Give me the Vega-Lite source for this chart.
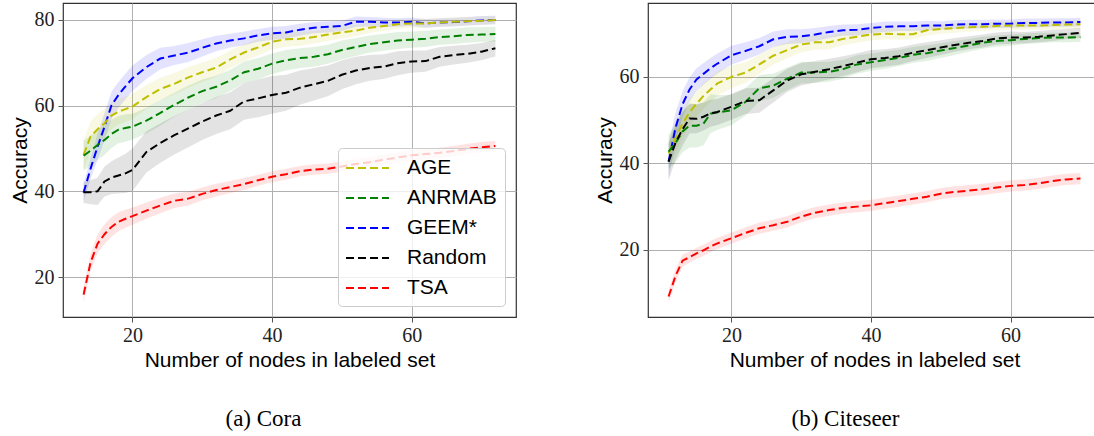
{
"$schema": "https://vega.github.io/schema/vega-lite/v6.json",
"padding": {"left": 8, "top": 2, "right": 0, "bottom": 0},
"background": "white",
"spacing": 132,
"bounds": "flush",
"resolve": {"scale": {"x": "independent", "y": "independent", "color": "independent", "fill": "independent"}, "legend": {"color": "independent", "fill": "independent"}},
"config": {
  "view": {"stroke": "#333333", "strokeWidth": 1.2},
  "axis": {"domain": false, "grid": true, "gridColor": "#b0b0b0", "gridWidth": 1, "tickColor": "#555555", "tickSize": 5, "labelFont": "Liberation Serif", "labelFontSize": 20, "labelColor": "#222222", "titleFont": "Liberation Sans", "titleFontSize": 21, "titleFontWeight": "normal", "titleColor": "black", "labelPadding": 3},
  "axisY": {"titlePadding": 4, "labelPadding": 4},
  "axisX": {"titlePadding": 4}
},
"datasets": {
"cora": [
{"m":"GEEM*","x":13,"y":39.7,"lo":37.7,"hi":41.7},{"m":"GEEM*","x":14,"y":45.3,"lo":42.8,"hi":47.8},{"m":"GEEM*","x":15,"y":50.4,"lo":47.4,"hi":53.4},{"m":"GEEM*","x":16,"y":55.1,"lo":51.9,"hi":58.3},{"m":"GEEM*","x":17,"y":60.1,"lo":56.9,"hi":63.3},{"m":"GEEM*","x":18,"y":62.5,"lo":59.5,"hi":65.5},{"m":"GEEM*","x":19,"y":64.5,"lo":61.5,"hi":67.5},{"m":"GEEM*","x":20,"y":66.4,"lo":63.4,"hi":69.4},{"m":"GEEM*","x":22,"y":69.0,"lo":66.2,"hi":71.8},{"m":"GEEM*","x":24,"y":71.0,"lo":68.5,"hi":73.5},{"m":"GEEM*","x":26,"y":71.7,"lo":69.5,"hi":73.9},{"m":"GEEM*","x":28,"y":72.4,"lo":70.2,"hi":74.6},{"m":"GEEM*","x":30,"y":73.5,"lo":71.5,"hi":75.5},{"m":"GEEM*","x":32,"y":74.5,"lo":72.7,"hi":76.3},{"m":"GEEM*","x":34,"y":75.2,"lo":73.6,"hi":76.8},{"m":"GEEM*","x":36,"y":75.7,"lo":74.1,"hi":77.3},{"m":"GEEM*","x":38,"y":76.4,"lo":74.9,"hi":77.9},{"m":"GEEM*","x":40,"y":76.9,"lo":75.4,"hi":78.4},{"m":"GEEM*","x":42,"y":77.1,"lo":75.6,"hi":78.6},{"m":"GEEM*","x":44,"y":77.7,"lo":76.3,"hi":79.1},{"m":"GEEM*","x":46,"y":78.2,"lo":76.9,"hi":79.5},{"m":"GEEM*","x":48,"y":78.4,"lo":77.1,"hi":79.7},{"m":"GEEM*","x":50,"y":78.6,"lo":77.4,"hi":79.8},{"m":"GEEM*","x":52,"y":79.6,"lo":78.4,"hi":80.8},{"m":"GEEM*","x":54,"y":79.6,"lo":78.5,"hi":80.7},{"m":"GEEM*","x":56,"y":79.4,"lo":78.3,"hi":80.5},{"m":"GEEM*","x":58,"y":79.4,"lo":78.4,"hi":80.4},{"m":"GEEM*","x":60,"y":79.6,"lo":78.6,"hi":80.6},{"m":"GEEM*","x":62,"y":79.2,"lo":78.2,"hi":80.2},{"m":"GEEM*","x":64,"y":79.4,"lo":78.4,"hi":80.4},{"m":"GEEM*","x":66,"y":79.5,"lo":78.5,"hi":80.5},{"m":"GEEM*","x":68,"y":79.7,"lo":78.7,"hi":80.7},{"m":"GEEM*","x":70,"y":79.9,"lo":78.9,"hi":80.9},{"m":"GEEM*","x":72,"y":80.0,"lo":79.0,"hi":81.0},
{"m":"AGE","x":13,"y":48.5,"lo":45.0,"hi":52.0},{"m":"AGE","x":14,"y":52.8,"lo":49.3,"hi":56.3},{"m":"AGE","x":15,"y":54.5,"lo":51.0,"hi":58.0},{"m":"AGE","x":16,"y":55.9,"lo":52.6,"hi":59.2},{"m":"AGE","x":17,"y":57.7,"lo":54.5,"hi":60.9},{"m":"AGE","x":18,"y":58.6,"lo":55.6,"hi":61.6},{"m":"AGE","x":19,"y":59.2,"lo":56.2,"hi":62.2},{"m":"AGE","x":20,"y":59.8,"lo":56.8,"hi":62.8},{"m":"AGE","x":22,"y":62.0,"lo":59.2,"hi":64.8},{"m":"AGE","x":24,"y":63.9,"lo":61.3,"hi":66.5},{"m":"AGE","x":26,"y":65.1,"lo":62.6,"hi":67.6},{"m":"AGE","x":28,"y":66.6,"lo":64.2,"hi":69.0},{"m":"AGE","x":30,"y":67.8,"lo":65.5,"hi":70.1},{"m":"AGE","x":32,"y":68.9,"lo":66.7,"hi":71.1},{"m":"AGE","x":34,"y":70.8,"lo":68.8,"hi":72.8},{"m":"AGE","x":36,"y":72.4,"lo":70.4,"hi":74.4},{"m":"AGE","x":38,"y":73.6,"lo":71.7,"hi":75.5},{"m":"AGE","x":40,"y":74.9,"lo":73.1,"hi":76.7},{"m":"AGE","x":42,"y":75.5,"lo":73.8,"hi":77.2},{"m":"AGE","x":44,"y":75.6,"lo":74.0,"hi":77.2},{"m":"AGE","x":46,"y":76.0,"lo":74.5,"hi":77.5},{"m":"AGE","x":48,"y":76.6,"lo":75.1,"hi":78.1},{"m":"AGE","x":50,"y":77.1,"lo":75.7,"hi":78.5},{"m":"AGE","x":52,"y":77.5,"lo":76.2,"hi":78.8},{"m":"AGE","x":54,"y":78.2,"lo":77.0,"hi":79.4},{"m":"AGE","x":56,"y":78.6,"lo":77.4,"hi":79.8},{"m":"AGE","x":58,"y":79.0,"lo":77.9,"hi":80.1},{"m":"AGE","x":60,"y":79.2,"lo":78.2,"hi":80.2},{"m":"AGE","x":62,"y":79.2,"lo":78.2,"hi":80.2},{"m":"AGE","x":64,"y":79.4,"lo":78.4,"hi":80.4},{"m":"AGE","x":66,"y":79.6,"lo":78.6,"hi":80.6},{"m":"AGE","x":68,"y":79.7,"lo":78.7,"hi":80.7},{"m":"AGE","x":70,"y":79.8,"lo":78.8,"hi":80.8},{"m":"AGE","x":72,"y":80.0,"lo":79.0,"hi":81.0},
{"m":"ANRMAB","x":13,"y":48.3,"lo":44.8,"hi":51.8},{"m":"ANRMAB","x":14,"y":49.5,"lo":46.0,"hi":53.0},{"m":"ANRMAB","x":15,"y":50.8,"lo":47.3,"hi":54.3},{"m":"ANRMAB","x":16,"y":52.0,"lo":48.5,"hi":55.5},{"m":"ANRMAB","x":17,"y":53.4,"lo":50.1,"hi":56.7},{"m":"ANRMAB","x":18,"y":54.4,"lo":51.2,"hi":57.6},{"m":"ANRMAB","x":19,"y":54.8,"lo":51.6,"hi":58.0},{"m":"ANRMAB","x":20,"y":55.1,"lo":52.1,"hi":58.1},{"m":"ANRMAB","x":22,"y":56.5,"lo":53.5,"hi":59.5},{"m":"ANRMAB","x":24,"y":58.3,"lo":55.3,"hi":61.3},{"m":"ANRMAB","x":26,"y":60.2,"lo":57.4,"hi":63.0},{"m":"ANRMAB","x":28,"y":61.9,"lo":59.1,"hi":64.7},{"m":"ANRMAB","x":30,"y":63.4,"lo":60.7,"hi":66.1},{"m":"ANRMAB","x":32,"y":64.4,"lo":61.8,"hi":67.0},{"m":"ANRMAB","x":34,"y":65.9,"lo":63.4,"hi":68.4},{"m":"ANRMAB","x":36,"y":67.8,"lo":65.3,"hi":70.3},{"m":"ANRMAB","x":38,"y":68.6,"lo":66.1,"hi":71.1},{"m":"ANRMAB","x":40,"y":69.8,"lo":67.4,"hi":72.2},{"m":"ANRMAB","x":42,"y":70.6,"lo":68.2,"hi":73.0},{"m":"ANRMAB","x":44,"y":71.1,"lo":68.8,"hi":73.4},{"m":"ANRMAB","x":46,"y":71.4,"lo":69.1,"hi":73.7},{"m":"ANRMAB","x":48,"y":72.0,"lo":69.8,"hi":74.2},{"m":"ANRMAB","x":50,"y":73.0,"lo":70.8,"hi":75.2},{"m":"ANRMAB","x":52,"y":73.7,"lo":71.6,"hi":75.8},{"m":"ANRMAB","x":54,"y":74.4,"lo":72.4,"hi":76.4},{"m":"ANRMAB","x":56,"y":74.8,"lo":72.8,"hi":76.8},{"m":"ANRMAB","x":58,"y":75.2,"lo":73.2,"hi":77.2},{"m":"ANRMAB","x":60,"y":75.4,"lo":73.5,"hi":77.3},{"m":"ANRMAB","x":62,"y":75.6,"lo":73.7,"hi":77.5},{"m":"ANRMAB","x":64,"y":76.0,"lo":74.2,"hi":77.8},{"m":"ANRMAB","x":66,"y":76.2,"lo":74.4,"hi":78.0},{"m":"ANRMAB","x":68,"y":76.5,"lo":74.7,"hi":78.3},{"m":"ANRMAB","x":70,"y":76.6,"lo":74.9,"hi":78.3},{"m":"ANRMAB","x":72,"y":76.7,"lo":75.0,"hi":78.4},
{"m":"Random","x":13,"y":39.8,"lo":37.3,"hi":42.3},{"m":"Random","x":14,"y":39.8,"lo":37.0,"hi":42.6},{"m":"Random","x":15,"y":40.0,"lo":36.8,"hi":43.2},{"m":"Random","x":16,"y":42.3,"lo":38.8,"hi":45.8},{"m":"Random","x":17,"y":43.2,"lo":39.4,"hi":47.0},{"m":"Random","x":18,"y":43.7,"lo":39.5,"hi":47.9},{"m":"Random","x":19,"y":44.2,"lo":39.6,"hi":48.8},{"m":"Random","x":20,"y":45.0,"lo":40.0,"hi":50.0},{"m":"Random","x":22,"y":49.2,"lo":44.4,"hi":54.0},{"m":"Random","x":24,"y":51.3,"lo":46.7,"hi":55.9},{"m":"Random","x":26,"y":53.1,"lo":48.6,"hi":57.6},{"m":"Random","x":28,"y":54.7,"lo":50.3,"hi":59.1},{"m":"Random","x":30,"y":56.3,"lo":52.0,"hi":60.6},{"m":"Random","x":32,"y":57.7,"lo":53.4,"hi":62.0},{"m":"Random","x":34,"y":58.8,"lo":54.5,"hi":63.1},{"m":"Random","x":36,"y":61.0,"lo":56.7,"hi":65.3},{"m":"Random","x":38,"y":61.7,"lo":57.3,"hi":66.1},{"m":"Random","x":40,"y":62.5,"lo":58.1,"hi":66.9},{"m":"Random","x":42,"y":63.0,"lo":58.8,"hi":67.2},{"m":"Random","x":44,"y":64.2,"lo":60.2,"hi":68.2},{"m":"Random","x":46,"y":65.0,"lo":61.2,"hi":68.8},{"m":"Random","x":48,"y":65.8,"lo":62.2,"hi":69.4},{"m":"Random","x":50,"y":67.2,"lo":63.8,"hi":70.6},{"m":"Random","x":52,"y":68.2,"lo":65.0,"hi":71.4},{"m":"Random","x":54,"y":68.8,"lo":65.8,"hi":71.8},{"m":"Random","x":56,"y":69.1,"lo":66.2,"hi":72.0},{"m":"Random","x":58,"y":69.9,"lo":67.1,"hi":72.7},{"m":"Random","x":60,"y":70.3,"lo":67.7,"hi":72.9},{"m":"Random","x":62,"y":70.4,"lo":67.9,"hi":72.9},{"m":"Random","x":64,"y":71.4,"lo":69.1,"hi":73.7},{"m":"Random","x":66,"y":71.8,"lo":69.6,"hi":74.0},{"m":"Random","x":68,"y":72.1,"lo":70.0,"hi":74.2},{"m":"Random","x":70,"y":72.6,"lo":70.6,"hi":74.6},{"m":"Random","x":72,"y":73.4,"lo":71.5,"hi":75.3},
{"m":"TSA","x":13,"y":15.9,"lo":14.1,"hi":17.7},{"m":"TSA","x":14,"y":23.4,"lo":21.4,"hi":25.4},{"m":"TSA","x":15,"y":27.8,"lo":25.6,"hi":30.0},{"m":"TSA","x":16,"y":30.0,"lo":27.7,"hi":32.3},{"m":"TSA","x":17,"y":31.7,"lo":29.4,"hi":34.0},{"m":"TSA","x":18,"y":32.9,"lo":30.7,"hi":35.1},{"m":"TSA","x":19,"y":33.6,"lo":31.5,"hi":35.7},{"m":"TSA","x":20,"y":34.2,"lo":32.2,"hi":36.2},{"m":"TSA","x":22,"y":35.5,"lo":33.6,"hi":37.4},{"m":"TSA","x":24,"y":36.7,"lo":34.9,"hi":38.5},{"m":"TSA","x":26,"y":37.8,"lo":36.1,"hi":39.5},{"m":"TSA","x":28,"y":38.3,"lo":36.7,"hi":39.9},{"m":"TSA","x":30,"y":39.4,"lo":37.9,"hi":40.9},{"m":"TSA","x":32,"y":40.3,"lo":38.8,"hi":41.8},{"m":"TSA","x":34,"y":41.0,"lo":39.6,"hi":42.4},{"m":"TSA","x":36,"y":41.7,"lo":40.3,"hi":43.1},{"m":"TSA","x":38,"y":42.6,"lo":41.3,"hi":43.9},{"m":"TSA","x":40,"y":43.4,"lo":42.1,"hi":44.7},{"m":"TSA","x":42,"y":44.0,"lo":42.7,"hi":45.3},{"m":"TSA","x":44,"y":44.7,"lo":43.5,"hi":45.9},{"m":"TSA","x":46,"y":45.1,"lo":43.9,"hi":46.3},{"m":"TSA","x":48,"y":45.3,"lo":44.1,"hi":46.5},{"m":"TSA","x":50,"y":45.8,"lo":44.6,"hi":47.0},{"m":"TSA","x":52,"y":46.4,"lo":45.2,"hi":47.6},{"m":"TSA","x":54,"y":46.8,"lo":45.6,"hi":48.0},{"m":"TSA","x":56,"y":47.4,"lo":46.2,"hi":48.6},{"m":"TSA","x":58,"y":47.9,"lo":46.7,"hi":49.1},{"m":"TSA","x":60,"y":48.4,"lo":47.2,"hi":49.6},{"m":"TSA","x":62,"y":48.7,"lo":47.5,"hi":49.9},{"m":"TSA","x":64,"y":49.0,"lo":47.8,"hi":50.2},{"m":"TSA","x":66,"y":49.4,"lo":48.2,"hi":50.6},{"m":"TSA","x":68,"y":49.9,"lo":48.7,"hi":51.1},{"m":"TSA","x":70,"y":50.3,"lo":49.1,"hi":51.5},{"m":"TSA","x":72,"y":50.6,"lo":49.4,"hi":51.8}
],
"citeseer": [
{"m":"GEEM*","x":11,"y":40.4,"lo":36.4,"hi":44.4},{"m":"GEEM*","x":12,"y":48.3,"lo":44.8,"hi":51.8},{"m":"GEEM*","x":13,"y":53.7,"lo":50.7,"hi":56.7},{"m":"GEEM*","x":14,"y":57.1,"lo":54.3,"hi":59.9},{"m":"GEEM*","x":15,"y":59.4,"lo":56.8,"hi":62.0},{"m":"GEEM*","x":16,"y":60.7,"lo":58.2,"hi":63.2},{"m":"GEEM*","x":17,"y":62.0,"lo":59.6,"hi":64.4},{"m":"GEEM*","x":18,"y":63.1,"lo":60.8,"hi":65.4},{"m":"GEEM*","x":20,"y":65.0,"lo":62.8,"hi":67.2},{"m":"GEEM*","x":22,"y":66.0,"lo":64.0,"hi":68.0},{"m":"GEEM*","x":24,"y":67.1,"lo":65.2,"hi":69.0},{"m":"GEEM*","x":26,"y":68.7,"lo":66.9,"hi":70.5},{"m":"GEEM*","x":28,"y":69.3,"lo":67.6,"hi":71.0},{"m":"GEEM*","x":30,"y":69.4,"lo":67.8,"hi":71.0},{"m":"GEEM*","x":32,"y":69.8,"lo":68.3,"hi":71.3},{"m":"GEEM*","x":34,"y":70.4,"lo":69.0,"hi":71.8},{"m":"GEEM*","x":36,"y":70.8,"lo":69.5,"hi":72.1},{"m":"GEEM*","x":38,"y":70.9,"lo":69.6,"hi":72.2},{"m":"GEEM*","x":40,"y":71.3,"lo":70.1,"hi":72.5},{"m":"GEEM*","x":42,"y":71.6,"lo":70.4,"hi":72.8},{"m":"GEEM*","x":44,"y":71.7,"lo":70.6,"hi":72.8},{"m":"GEEM*","x":46,"y":71.7,"lo":70.6,"hi":72.8},{"m":"GEEM*","x":48,"y":71.9,"lo":70.8,"hi":73.0},{"m":"GEEM*","x":50,"y":71.9,"lo":70.9,"hi":72.9},{"m":"GEEM*","x":52,"y":72.1,"lo":71.1,"hi":73.1},{"m":"GEEM*","x":54,"y":72.2,"lo":71.2,"hi":73.2},{"m":"GEEM*","x":56,"y":72.2,"lo":71.2,"hi":73.2},{"m":"GEEM*","x":58,"y":72.3,"lo":71.3,"hi":73.3},{"m":"GEEM*","x":60,"y":72.3,"lo":71.3,"hi":73.3},{"m":"GEEM*","x":62,"y":72.5,"lo":71.5,"hi":73.5},{"m":"GEEM*","x":64,"y":72.5,"lo":71.5,"hi":73.5},{"m":"GEEM*","x":66,"y":72.6,"lo":71.6,"hi":73.6},{"m":"GEEM*","x":68,"y":72.6,"lo":71.6,"hi":73.6},{"m":"GEEM*","x":70,"y":72.7,"lo":71.7,"hi":73.7},
{"m":"AGE","x":11,"y":42.3,"lo":38.8,"hi":45.8},{"m":"AGE","x":12,"y":45.9,"lo":42.4,"hi":49.4},{"m":"AGE","x":13,"y":49.2,"lo":45.9,"hi":52.5},{"m":"AGE","x":14,"y":51.8,"lo":48.6,"hi":55.0},{"m":"AGE","x":15,"y":53.8,"lo":50.8,"hi":56.8},{"m":"AGE","x":16,"y":55.6,"lo":52.6,"hi":58.6},{"m":"AGE","x":17,"y":57.1,"lo":54.2,"hi":60.0},{"m":"AGE","x":18,"y":58.5,"lo":55.7,"hi":61.3},{"m":"AGE","x":20,"y":60.0,"lo":57.4,"hi":62.6},{"m":"AGE","x":22,"y":61.0,"lo":58.6,"hi":63.4},{"m":"AGE","x":24,"y":62.9,"lo":60.7,"hi":65.1},{"m":"AGE","x":26,"y":64.9,"lo":62.9,"hi":66.9},{"m":"AGE","x":28,"y":66.2,"lo":64.3,"hi":68.1},{"m":"AGE","x":30,"y":67.5,"lo":65.7,"hi":69.3},{"m":"AGE","x":32,"y":68.0,"lo":66.3,"hi":69.7},{"m":"AGE","x":34,"y":68.0,"lo":66.4,"hi":69.6},{"m":"AGE","x":36,"y":68.8,"lo":67.3,"hi":70.3},{"m":"AGE","x":38,"y":69.3,"lo":67.9,"hi":70.7},{"m":"AGE","x":40,"y":69.8,"lo":68.4,"hi":71.2},{"m":"AGE","x":42,"y":70.0,"lo":68.7,"hi":71.3},{"m":"AGE","x":44,"y":69.9,"lo":68.6,"hi":71.2},{"m":"AGE","x":46,"y":69.9,"lo":68.7,"hi":71.1},{"m":"AGE","x":48,"y":70.8,"lo":69.6,"hi":72.0},{"m":"AGE","x":50,"y":71.1,"lo":70.0,"hi":72.2},{"m":"AGE","x":52,"y":71.3,"lo":70.2,"hi":72.4},{"m":"AGE","x":54,"y":71.5,"lo":70.5,"hi":72.5},{"m":"AGE","x":56,"y":71.6,"lo":70.6,"hi":72.6},{"m":"AGE","x":58,"y":71.8,"lo":70.8,"hi":72.8},{"m":"AGE","x":60,"y":71.9,"lo":70.9,"hi":72.9},{"m":"AGE","x":62,"y":71.9,"lo":70.9,"hi":72.9},{"m":"AGE","x":64,"y":71.9,"lo":70.9,"hi":72.9},{"m":"AGE","x":66,"y":72.0,"lo":71.0,"hi":73.0},{"m":"AGE","x":68,"y":72.1,"lo":71.1,"hi":73.1},{"m":"AGE","x":70,"y":72.2,"lo":71.2,"hi":73.2},
{"m":"ANRMAB","x":11,"y":42.7,"lo":38.7,"hi":46.7},{"m":"ANRMAB","x":12,"y":44.7,"lo":40.2,"hi":49.2},{"m":"ANRMAB","x":13,"y":47.4,"lo":42.6,"hi":52.2},{"m":"ANRMAB","x":14,"y":48.7,"lo":43.7,"hi":53.7},{"m":"ANRMAB","x":15,"y":48.7,"lo":43.7,"hi":53.7},{"m":"ANRMAB","x":16,"y":49.2,"lo":44.2,"hi":54.2},{"m":"ANRMAB","x":17,"y":51.5,"lo":47.0,"hi":56.0},{"m":"ANRMAB","x":18,"y":51.8,"lo":47.8,"hi":55.8},{"m":"ANRMAB","x":20,"y":52.3,"lo":48.8,"hi":55.8},{"m":"ANRMAB","x":22,"y":54.2,"lo":51.0,"hi":57.4},{"m":"ANRMAB","x":24,"y":57.4,"lo":54.4,"hi":60.4},{"m":"ANRMAB","x":26,"y":58.0,"lo":55.2,"hi":60.8},{"m":"ANRMAB","x":28,"y":59.6,"lo":57.0,"hi":62.2},{"m":"ANRMAB","x":30,"y":61.0,"lo":58.5,"hi":63.5},{"m":"ANRMAB","x":32,"y":61.0,"lo":58.6,"hi":63.4},{"m":"ANRMAB","x":34,"y":61.2,"lo":58.9,"hi":63.5},{"m":"ANRMAB","x":36,"y":61.8,"lo":59.6,"hi":64.0},{"m":"ANRMAB","x":38,"y":62.9,"lo":60.8,"hi":65.0},{"m":"ANRMAB","x":40,"y":63.4,"lo":61.4,"hi":65.4},{"m":"ANRMAB","x":42,"y":63.9,"lo":61.9,"hi":65.9},{"m":"ANRMAB","x":44,"y":64.4,"lo":62.5,"hi":66.3},{"m":"ANRMAB","x":46,"y":65.1,"lo":63.3,"hi":66.9},{"m":"ANRMAB","x":48,"y":65.5,"lo":63.7,"hi":67.3},{"m":"ANRMAB","x":50,"y":66.1,"lo":64.4,"hi":67.8},{"m":"ANRMAB","x":52,"y":66.7,"lo":65.1,"hi":68.3},{"m":"ANRMAB","x":54,"y":67.3,"lo":65.8,"hi":68.8},{"m":"ANRMAB","x":56,"y":67.9,"lo":66.5,"hi":69.3},{"m":"ANRMAB","x":58,"y":68.3,"lo":67.0,"hi":69.6},{"m":"ANRMAB","x":60,"y":68.5,"lo":67.2,"hi":69.8},{"m":"ANRMAB","x":62,"y":68.8,"lo":67.6,"hi":70.0},{"m":"ANRMAB","x":64,"y":69.0,"lo":67.8,"hi":70.2},{"m":"ANRMAB","x":66,"y":69.1,"lo":68.0,"hi":70.2},{"m":"ANRMAB","x":68,"y":69.1,"lo":68.0,"hi":70.2},{"m":"ANRMAB","x":70,"y":69.2,"lo":68.1,"hi":70.3},
{"m":"Random","x":11,"y":40.4,"lo":36.1,"hi":44.7},{"m":"Random","x":12,"y":44.8,"lo":40.8,"hi":48.8},{"m":"Random","x":13,"y":47.9,"lo":44.1,"hi":51.7},{"m":"Random","x":14,"y":50.4,"lo":46.9,"hi":53.9},{"m":"Random","x":15,"y":50.3,"lo":47.0,"hi":53.6},{"m":"Random","x":16,"y":50.8,"lo":47.6,"hi":54.0},{"m":"Random","x":17,"y":51.6,"lo":48.5,"hi":54.7},{"m":"Random","x":18,"y":51.9,"lo":48.9,"hi":54.9},{"m":"Random","x":20,"y":53.1,"lo":50.1,"hi":56.1},{"m":"Random","x":22,"y":54.4,"lo":51.4,"hi":57.4},{"m":"Random","x":24,"y":54.6,"lo":51.7,"hi":57.5},{"m":"Random","x":26,"y":56.9,"lo":54.1,"hi":59.7},{"m":"Random","x":28,"y":59.2,"lo":56.5,"hi":61.9},{"m":"Random","x":30,"y":60.6,"lo":58.0,"hi":63.2},{"m":"Random","x":32,"y":61.2,"lo":58.7,"hi":63.7},{"m":"Random","x":34,"y":61.8,"lo":59.4,"hi":64.2},{"m":"Random","x":36,"y":62.5,"lo":60.2,"hi":64.8},{"m":"Random","x":38,"y":63.3,"lo":61.1,"hi":65.5},{"m":"Random","x":40,"y":64.1,"lo":62.0,"hi":66.2},{"m":"Random","x":42,"y":64.4,"lo":62.4,"hi":66.4},{"m":"Random","x":44,"y":64.8,"lo":62.8,"hi":66.8},{"m":"Random","x":46,"y":65.6,"lo":63.7,"hi":67.5},{"m":"Random","x":48,"y":66.2,"lo":64.4,"hi":68.0},{"m":"Random","x":50,"y":66.8,"lo":65.1,"hi":68.5},{"m":"Random","x":52,"y":67.4,"lo":65.8,"hi":69.0},{"m":"Random","x":54,"y":67.9,"lo":66.4,"hi":69.4},{"m":"Random","x":56,"y":68.3,"lo":66.8,"hi":69.8},{"m":"Random","x":58,"y":68.9,"lo":67.5,"hi":70.3},{"m":"Random","x":60,"y":69.1,"lo":67.7,"hi":70.5},{"m":"Random","x":62,"y":69.1,"lo":67.8,"hi":70.4},{"m":"Random","x":64,"y":69.3,"lo":68.0,"hi":70.6},{"m":"Random","x":66,"y":69.6,"lo":68.3,"hi":70.9},{"m":"Random","x":68,"y":69.9,"lo":68.7,"hi":71.1},{"m":"Random","x":70,"y":70.2,"lo":69.0,"hi":71.4},
{"m":"TSA","x":11,"y":9.2,"lo":7.7,"hi":10.7},{"m":"TSA","x":12,"y":14.0,"lo":12.5,"hi":15.5},{"m":"TSA","x":13,"y":17.5,"lo":16.1,"hi":18.9},{"m":"TSA","x":14,"y":18.3,"lo":17.0,"hi":19.6},{"m":"TSA","x":15,"y":19.2,"lo":17.9,"hi":20.5},{"m":"TSA","x":16,"y":19.9,"lo":18.6,"hi":21.2},{"m":"TSA","x":17,"y":20.8,"lo":19.5,"hi":22.1},{"m":"TSA","x":18,"y":21.5,"lo":20.2,"hi":22.8},{"m":"TSA","x":20,"y":22.7,"lo":21.4,"hi":24.0},{"m":"TSA","x":22,"y":23.9,"lo":22.6,"hi":25.2},{"m":"TSA","x":24,"y":25.0,"lo":23.7,"hi":26.3},{"m":"TSA","x":26,"y":25.7,"lo":24.4,"hi":27.0},{"m":"TSA","x":28,"y":26.5,"lo":25.2,"hi":27.8},{"m":"TSA","x":30,"y":27.7,"lo":26.4,"hi":29.0},{"m":"TSA","x":32,"y":28.6,"lo":27.3,"hi":29.9},{"m":"TSA","x":34,"y":29.2,"lo":27.9,"hi":30.5},{"m":"TSA","x":36,"y":29.7,"lo":28.4,"hi":31.0},{"m":"TSA","x":38,"y":30.0,"lo":28.7,"hi":31.3},{"m":"TSA","x":40,"y":30.3,"lo":29.0,"hi":31.6},{"m":"TSA","x":42,"y":30.8,"lo":29.5,"hi":32.1},{"m":"TSA","x":44,"y":31.3,"lo":30.0,"hi":32.6},{"m":"TSA","x":46,"y":31.8,"lo":30.5,"hi":33.1},{"m":"TSA","x":48,"y":32.3,"lo":31.0,"hi":33.6},{"m":"TSA","x":50,"y":33.0,"lo":31.7,"hi":34.3},{"m":"TSA","x":52,"y":33.4,"lo":32.1,"hi":34.7},{"m":"TSA","x":54,"y":33.7,"lo":32.4,"hi":35.0},{"m":"TSA","x":56,"y":34.0,"lo":32.7,"hi":35.3},{"m":"TSA","x":58,"y":34.4,"lo":33.1,"hi":35.7},{"m":"TSA","x":60,"y":34.8,"lo":33.5,"hi":36.1},{"m":"TSA","x":62,"y":35.0,"lo":33.7,"hi":36.3},{"m":"TSA","x":64,"y":35.4,"lo":34.1,"hi":36.7},{"m":"TSA","x":66,"y":35.9,"lo":34.6,"hi":37.2},{"m":"TSA","x":68,"y":36.3,"lo":35.0,"hi":37.6},{"m":"TSA","x":70,"y":36.5,"lo":35.2,"hi":37.8}
]
},
"hconcat": [
{
  "width": 453, "height": 314,
  "data": {"name": "cora"},
  "title": {"text": "(a) Cora", "orient": "bottom", "font": "Liberation Serif", "fontSize": 23, "fontWeight": "normal", "color": "black", "offset": 38, "dx": -26, "anchor": "middle"},
  "encoding": {
    "x": {"field": "x", "type": "quantitative", "scale": {"domain": [10.05, 74.95], "nice": false, "zero": false}, "axis": {"title": "Number of nodes in labeled set", "values": [20, 40, 60]}}
  },
  "layer": [
    {"mark": {"type": "area", "opacity": 0.11},
     "encoding": {
       "y": {"field": "lo", "type": "quantitative", "scale": {"domain": [10.67, 83.96], "nice": false, "zero": false}, "axis": {"title": "Accuracy", "values": [20, 40, 60, 80]}},
       "y2": {"field": "hi"},
       "fill": {"field": "m", "type": "nominal", "scale": {"domain": ["TSA", "Random", "GEEM*", "ANRMAB", "AGE"], "range": ["#ff0000", "#000000", "#0000ff", "#008000", "#bfbf00"]}, "legend": null}
     }},
    {"mark": {"type": "line", "strokeDash": [8, 4], "strokeWidth": 2},
     "encoding": {
       "y": {"field": "y", "type": "quantitative", "scale": {"domain": [10.67, 83.96], "nice": false, "zero": false}, "axis": {"title": "Accuracy", "values": [20, 40, 60, 80]}},
       "color": {"field": "m", "type": "nominal", "scale": {"domain": ["AGE", "ANRMAB", "GEEM*", "Random", "TSA"], "range": ["#bfbf00", "#008000", "#0000ff", "#000000", "#ff0000"]},
         "legend": {"title": null, "orient": "bottom-right", "offset": 11, "symbolType": "M-2,0H2", "symbolSize": 462, "symbolStrokeWidth": 2, "symbolDash": [8, 4], "symbolOffset": 9.5, "labelOffset": 27.5, "labelFont": "Liberation Sans", "labelFontSize": 21, "labelColor": "black", "padding": 8, "rowPadding": 8, "fillColor": "rgba(255,255,255,0.8)", "strokeColor": "#cccccc", "cornerRadius": 4}}
     }}
  ]
},
{
  "width": 453, "height": 314,
  "data": {"name": "citeseer"},
  "title": {"text": "(b) Citeseer", "orient": "bottom", "font": "Liberation Serif", "fontSize": 23, "fontWeight": "normal", "color": "black", "offset": 38, "dx": -29, "anchor": "middle"},
  "encoding": {
    "x": {"field": "x", "type": "quantitative", "scale": {"domain": [8.05, 72.95], "nice": false, "zero": false}, "axis": {"title": "Number of nodes in labeled set", "values": [20, 40, 60]}}
  },
  "layer": [
    {"mark": {"type": "area", "opacity": 0.11},
     "encoding": {
       "y": {"field": "lo", "type": "quantitative", "scale": {"domain": [4.47, 77.1], "nice": false, "zero": false}, "axis": {"title": "Accuracy", "values": [20, 40, 60]}},
       "y2": {"field": "hi"},
       "fill": {"field": "m", "type": "nominal", "scale": {"domain": ["TSA", "Random", "GEEM*", "ANRMAB", "AGE"], "range": ["#ff0000", "#000000", "#0000ff", "#008000", "#bfbf00"]}, "legend": null}
     }},
    {"mark": {"type": "line", "strokeDash": [8, 4], "strokeWidth": 2},
     "encoding": {
       "y": {"field": "y", "type": "quantitative", "scale": {"domain": [4.47, 77.1], "nice": false, "zero": false}, "axis": {"title": "Accuracy", "values": [20, 40, 60]}},
       "color": {"field": "m", "type": "nominal", "scale": {"domain": ["AGE", "ANRMAB", "GEEM*", "Random", "TSA"], "range": ["#bfbf00", "#008000", "#0000ff", "#000000", "#ff0000"]}, "legend": null}
     }}
  ]
}
]
}
